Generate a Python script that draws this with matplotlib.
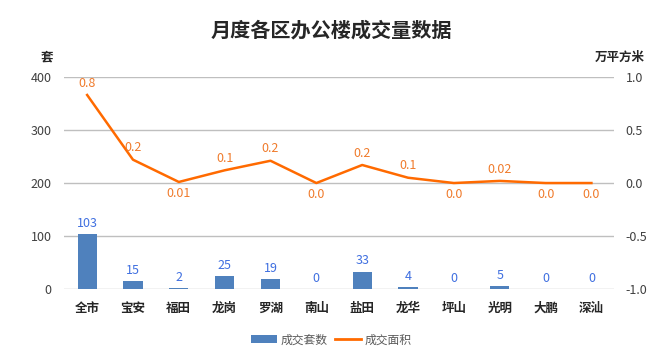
import numpy as np
import matplotlib.pyplot as plt
from matplotlib.lines import Line2D
from matplotlib.patches import Patch

plt.rcParams['font.family'] = ['Noto Sans CJK SC', 'DejaVu Sans']

# Data
districts = ["全市", "宝安", "福田", "龙岗", "罗湖", "南山", "盐田", "龙华", "坪山", "光明", "大鹏", "深汕"]
units_sold = [103, 15, 2, 25, 19, 0, 33, 4, 0, 5, 0, 0]
area_sold = [0.83, 0.22, 0.01, 0.12, 0.21, 0.0, 0.17, 0.05, 0.0, 0.02, 0.0, 0.0]
area_labels = ["0.8", "0.2", "0.01", "0.1", "0.2", "0.0", "0.2", "0.1", "0.0", "0.02", "0.0", "0.0"]
label_below = [False, False, True, False, False, True, False, False, True, False, True, True]

bar_color = "#4F81BD"
line_color = "#FF6A00"

fig = plt.figure(figsize=(6.62, 3.53), dpi=100)
ax = fig.add_axes([0.097, 0.181, 0.831, 0.601])
ax2 = ax.twinx()

x = np.arange(len(districts))

# Bars
ax.bar(x, units_sold, width=0.42, color=bar_color, zorder=2)
for xi, v in zip(x, units_sold):
    ax.text(xi, v + 8, str(v), ha="center", va="bottom", fontsize=9, color="#3F6FE0")

# Line
ax2.plot(x, area_sold, color=line_color, linewidth=1.8, zorder=3)
for xi, v, lab, below in zip(x, area_sold, area_labels, label_below):
    if below:
        ax2.text(xi, v - 0.05, lab, ha="center", va="top", fontsize=9, color="#F07B2C")
    else:
        ax2.text(xi, v + 0.05, lab, ha="center", va="bottom", fontsize=9, color="#F07B2C")

# Axes
ax.set_xlim(-0.5, len(districts) - 0.5)
ax.set_ylim(0, 400)
ax.set_yticks(np.arange(0, 401, 100))
ax2.set_ylim(-1.0, 1.0)
ax2.set_yticks(np.arange(-1.0, 1.01, 0.5))
ax2.set_yticklabels([f"{t:.1f}" for t in np.arange(-1.0, 1.01, 0.5)])

ax.grid(axis="y", color="#BFBFBF", linewidth=1, zorder=0)
ax.set_axisbelow(True)

for a in (ax, ax2):
    for s in a.spines.values():
        s.set_visible(False)
    a.tick_params(length=0, labelsize=9, colors="#404040")

ax.set_xticks(x)
ax.set_xticklabels(districts, fontsize=9, fontweight="bold", color="#262626")
ax.tick_params(axis="x", pad=9)
ax.tick_params(axis="y", pad=9)
ax2.tick_params(axis="y", pad=8)

# Unit labels
fig.text(0.071, 0.838, "套", ha="center", va="center", fontsize=9, fontweight="bold", color="#262626")
fig.text(0.936, 0.838, "万平方米", ha="center", va="center", fontsize=9, fontweight="bold", color="#262626")

# Title
fig.text(0.5, 0.915, "月度各区办公楼成交量数据", ha="center", va="center",
         fontsize=14.5, fontweight="bold", color="#262626")

# Legend
handles = [Patch(facecolor=bar_color), Line2D([0], [0], color=line_color, linewidth=2)]
fig.legend(handles, ["成交套数", "成交面积"], loc="center", bbox_to_anchor=(0.5, 0.037),
           ncol=2, frameon=False, fontsize=8.5, labelcolor="#595959",
           handlelength=2.2, handleheight=0.7, columnspacing=0.6, handletextpad=0.3)

plt.savefig("out.png", dpi=100)
